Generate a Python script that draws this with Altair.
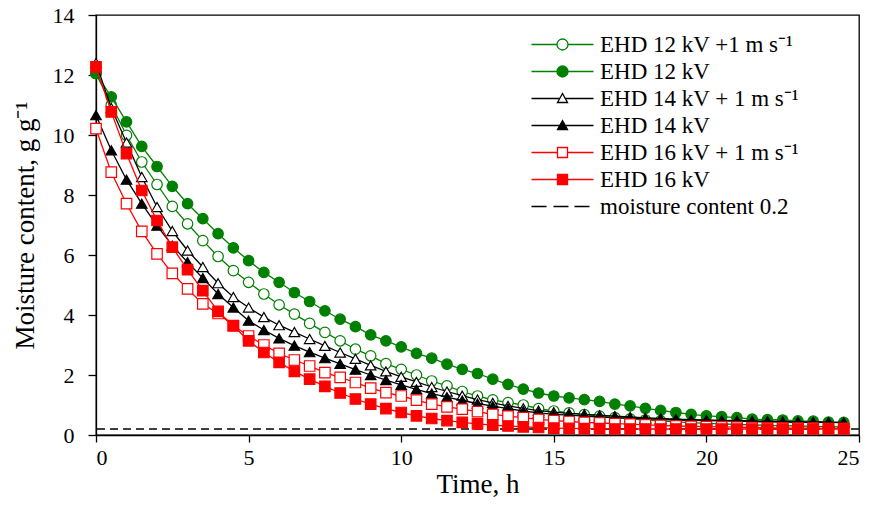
import altair as alt
import pandas as pd

# ---------------- data ----------------
time_h = [0, 0.5, 1, 1.5, 2, 2.5, 3, 3.5, 4, 4.5,
          5, 5.5, 6, 6.5, 7, 7.5, 8, 8.5, 9, 9.5,
          10, 10.5, 11, 11.5, 12, 12.5, 13, 13.5, 14, 14.5,
          15, 15.5, 16, 16.5, 17, 17.5, 18, 18.5, 19, 19.5,
          20, 20.5, 21, 21.5, 22, 22.5, 23, 23.5, 24, 24.5]

ehd12_air = [12.05, 11.0, 9.99, 9.10, 8.35, 7.62, 7.04, 6.48, 5.95, 5.48,
             5.09, 4.70, 4.34, 4.03, 3.72, 3.42, 3.14, 2.86, 2.64, 2.38,
             2.19, 2.00, 1.80, 1.64, 1.45, 1.30, 1.17, 1.08, 1.00, 0.88,
             0.80, 0.74, 0.68, 0.63, 0.58, 0.54, 0.50, 0.47, 0.44, 0.41,
             0.39, 0.37, 0.35, 0.34, 0.32, 0.31, 0.30, 0.29, 0.28, 0.27]

ehd12 = [12.05, 11.27, 10.44, 9.62, 8.95, 8.29, 7.71, 7.21, 6.71, 6.24,
         5.81, 5.42, 5.09, 4.75, 4.45, 4.14, 3.86, 3.61, 3.34, 3.14,
         2.94, 2.72, 2.56, 2.36, 2.19, 2.05, 1.86, 1.69, 1.53, 1.40,
         1.30, 1.24, 1.18, 1.12, 1.03, 0.97, 0.89, 0.82, 0.75, 0.69,
         0.64, 0.61, 0.58, 0.53, 0.51, 0.50, 0.47, 0.46, 0.43, 0.42]

ehd14_air = [12.4, 10.9, 9.75, 8.6, 7.6, 6.8, 6.15, 5.6, 5.06, 4.6,
             4.25, 3.93, 3.66, 3.43, 3.20, 2.97, 2.75, 2.54, 2.32, 2.12,
             1.94, 1.77, 1.60, 1.45, 1.31, 1.18, 1.07, 0.97, 0.89, 0.81,
             0.76, 0.72, 0.69, 0.66, 0.63, 0.60, 0.57, 0.55, 0.53, 0.51,
             0.50, 0.49, 0.48, 0.47, 0.46, 0.45, 0.44, 0.43, 0.42, 0.42]

ehd14 = [10.66, 9.49, 8.51, 7.71, 6.98, 6.31, 5.76, 5.23, 4.70, 4.25,
         3.81, 3.50, 3.22, 2.98, 2.76, 2.56, 2.37, 2.18, 2.00, 1.83,
         1.67, 1.52, 1.38, 1.26, 1.15, 1.05, 0.96, 0.88, 0.80, 0.74,
         0.69, 0.66, 0.63, 0.60, 0.58, 0.56, 0.54, 0.52, 0.50, 0.49,
         0.48, 0.47, 0.46, 0.45, 0.44, 0.43, 0.43, 0.42, 0.42, 0.41]

ehd16_air = [10.21, 8.76, 7.71, 6.79, 6.04, 5.39, 4.87, 4.37, 4.05, 3.65,
             3.30, 3.00, 2.72, 2.50, 2.30, 2.08, 1.92, 1.75, 1.56, 1.41,
             1.30, 1.16, 1.03, 0.94, 0.86, 0.78, 0.69, 0.63, 0.58, 0.52,
             0.48, 0.45, 0.42, 0.40, 0.38, 0.36, 0.34, 0.32, 0.30, 0.29,
             0.28, 0.27, 0.26, 0.25, 0.24, 0.24, 0.23, 0.23, 0.22, 0.22]

ehd16 = [12.27, 10.77, 9.38, 8.15, 7.15, 6.26, 5.51, 4.81, 4.12, 3.64,
         3.14, 2.75, 2.42, 2.12, 1.86, 1.62, 1.40, 1.20, 1.03, 0.88,
         0.75, 0.64, 0.55, 0.48, 0.42, 0.37, 0.33, 0.30, 0.27, 0.25,
         0.23, 0.22, 0.21, 0.21, 0.20, 0.20, 0.20, 0.20, 0.20, 0.20,
         0.20, 0.20, 0.20, 0.20, 0.20, 0.20, 0.20, 0.20, 0.20, 0.20]

threshold = [0.2]

labels = ["EHD 12 kV +1 m s\u207b\u00b9", "EHD 12 kV", "EHD 14 kV + 1 m s\u207b\u00b9",
          "EHD 14 kV", "EHD 16 kV + 1 m s\u207b\u00b9", "EHD 16 kV", "moisture content 0.2"]
series_values = [ehd12_air, ehd12, ehd14_air, ehd14, ehd16_air, ehd16]

# ---------------- styles ----------------
GREEN, BLACK, RED = "#008000", "#000000", "#FF0000"
colors = [GREEN, GREEN, BLACK, BLACK, RED, RED]
shapes = ["circle", "circle", "triangle-up", "triangle-up", "square", "square"]
filled = [False, True, False, True, False, True]
FONT = "Liberation Serif"
TICK_FS = 22

x_scale = alt.Scale(domain=[0, 25], nice=False)
y_scale = alt.Scale(domain=[0, 14], nice=False)
x_axis = alt.Axis(values=[0, 5, 10, 15, 20, 25], title="Time, h", grid=False,
                  tickSize=7, labelPadding=5, titlePadding=3, format="d",
                  labelFont=FONT, titleFont=FONT, labelFontSize=TICK_FS, titleFontSize=27,
                  titleFontWeight="normal", labelColor="black", titleColor="black")
y_axis = alt.Axis(values=[0, 2, 4, 6, 8, 10, 12, 14], title="Moisture content, g g\u207b\u00b9",
                  grid=False, tickSize=8, labelPadding=14, titlePadding=13, format="d",
                  labelFont=FONT, titleFont=FONT, labelFontSize=TICK_FS, titleFontSize=27,
                  titleFontWeight="normal", labelColor="black", titleColor="black")

layers = []
rule_df = pd.DataFrame({"mc": threshold})
layers.append(alt.Chart(rule_df).mark_rule(color=BLACK, strokeWidth=1.3, strokeDash=[8, 5])
              .encode(y=alt.Y("mc:Q", scale=y_scale, axis=y_axis)))

for vals, col, shp, fil in zip(series_values, colors, shapes, filled):
    df = pd.DataFrame({"t": time_h, "mc": vals})
    base = alt.Chart(df).encode(
        x=alt.X("t:Q", scale=x_scale, axis=x_axis),
        y=alt.Y("mc:Q", scale=y_scale, axis=y_axis),
    )
    layers.append(base.mark_line(color=col, strokeWidth=1.3))
    layers.append(base.mark_point(shape=shp, size=110, filled=True, opacity=1,
                                  fill=(col if fil else "white"), stroke=col, strokeWidth=1.2))

# legend symbols: line + marker drawn as custom paths
legend_paths = [
    "M-3.1,0L-0.55,0M0.55,0L3.1,0M0.55,0A0.55,0.55,0,1,1,-0.55,0A0.55,0.55,0,1,1,0.55,0Z",
    "M-3.1,0L-0.55,0M0.55,0L3.1,0M0.55,0A0.55,0.55,0,1,1,-0.55,0A0.55,0.55,0,1,1,0.55,0Z",
    "M-3.1,0L-0.28,0M0.28,0L3.1,0M0,-0.5L0.5,0.4L-0.5,0.4Z",
    "M-3.1,0L-0.28,0M0.28,0L3.1,0M0,-0.5L0.5,0.4L-0.5,0.4Z",
    "M-3.1,0L-0.5,0M0.5,0L3.1,0M-0.5,-0.5L0.5,-0.5L0.5,0.5L-0.5,0.5Z",
    "M-3.1,0L-0.5,0M0.5,0L3.1,0M-0.5,-0.5L0.5,-0.5L0.5,0.5L-0.5,0.5Z",
    "M-3.1,0L-1.6,0M-0.9,0L0.6,0M1.2,0L2.7,0",
]
legend_strokes = colors + [BLACK]
legend_fills = ["white", GREEN, "white", BLACK, "white", RED, "white"]

leg = alt.Legend(title=None, orient="none", legendX=455, legendY=18, padding=0,
                 labelFont=FONT, labelFontSize=23, labelColor="black", labelLimit=500,
                 labelOffset=26, symbolSize=400, symbolStrokeWidth=1.3, rowPadding=3)

legend_df = pd.DataFrame({"series": labels})
legend_layer = alt.Chart(legend_df).mark_point(size=400, filled=True, opacity=1, strokeWidth=1.3).encode(
    shape=alt.Shape("series:N", scale=alt.Scale(domain=labels, range=legend_paths), legend=leg),
    stroke=alt.Stroke("series:N", scale=alt.Scale(domain=labels, range=legend_strokes), legend=leg),
    fill=alt.Fill("series:N", scale=alt.Scale(domain=labels, range=legend_fills), legend=leg),
).transform_filter("false")
layers.append(legend_layer)

chart = alt.layer(*layers).properties(
    width=763, height=420,
    background="white",
    autosize=alt.AutoSizeParams(type="none"),
    padding={"left": 88, "top": 7, "right": 4, "bottom": 65},
).configure(font=FONT).configure_view(stroke="black", strokeWidth=1.3).configure_axis(
    labelFont=FONT, titleFont=FONT, labelFontSize=TICK_FS, titleFontSize=27,
    titleFontWeight="normal", labelColor="black", titleColor="black",
    domainColor="black", tickColor="black", domainWidth=1.3, tickWidth=1.3,
).configure_legend(labelFont=FONT)

chart.save("out.html", embed_options={"renderer": "svg", "actions": False})
